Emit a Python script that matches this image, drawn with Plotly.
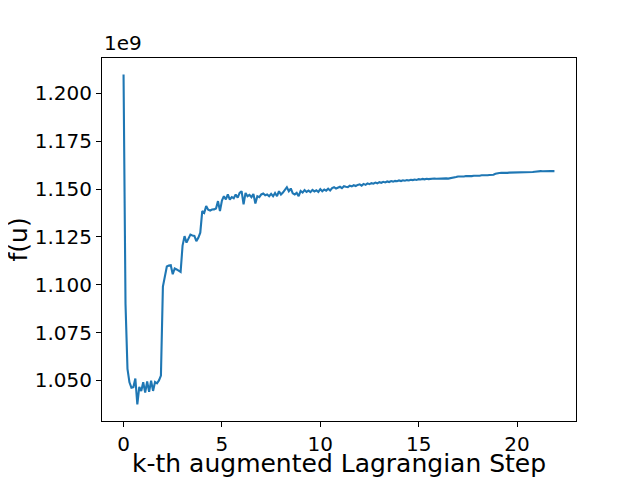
import plotly.graph_objects as go

# objective value f(u) in units of 1e9, one sample every 0.1 augmented-Lagrangian step
f_u_1e9 = [
    # 0.0 - 1.9
    1.2099, 1.0900, 1.0560, 1.0490, 1.0462, 1.0465, 1.0510, 1.0374, 1.0466, 1.0445,
    1.0490, 1.0436, 1.0495, 1.0440, 1.0498, 1.0445, 1.0492, 1.0485, 1.0500, 1.0525,
    # 2.0 - 3.9
    1.0990, 1.1040, 1.1095, 1.1100, 1.1102, 1.1055, 1.1085, 1.1080, 1.1072, 1.1067,
    1.1205, 1.1254, 1.1220, 1.1240, 1.1262, 1.1258, 1.1255, 1.1228, 1.1245, 1.1272,
    # 4.0 - 5.9
    1.1385, 1.1376, 1.1411, 1.1392, 1.1388, 1.1393, 1.1394, 1.1399, 1.1437, 1.1385,
    1.1440, 1.1463, 1.1446, 1.1472, 1.1445, 1.1458, 1.1452, 1.1472, 1.1455, 1.1480,
    # 6.0 - 7.9
    1.1489, 1.1420, 1.1480, 1.1463, 1.1470, 1.1458, 1.1474, 1.1425, 1.1463, 1.1458,
    1.1472, 1.1477, 1.1468, 1.1472, 1.1463, 1.1475, 1.1463, 1.1480, 1.1463, 1.1489,
    # 8.0 - 9.9
    1.1472, 1.1482, 1.1498, 1.1510, 1.1489, 1.1503, 1.1478, 1.1472, 1.1480, 1.1463,
    1.1490, 1.1482, 1.1495, 1.1485, 1.1492, 1.1484, 1.1496, 1.1488, 1.1494, 1.1485,
    # 10.0 - 11.9
    1.1500, 1.1489, 1.1498, 1.1492, 1.1502, 1.1493, 1.1505, 1.1510, 1.1503, 1.1508,
    1.1512, 1.1505, 1.1515, 1.1512, 1.1510, 1.1518, 1.1514, 1.1520, 1.1516, 1.1522,
    # 12.0 - 13.9
    1.1525, 1.1518, 1.1527, 1.1522, 1.1530, 1.1526, 1.1531, 1.1528, 1.1534, 1.1530,
    1.1536, 1.1533, 1.1538, 1.1535, 1.1540, 1.1537, 1.1542, 1.1539, 1.1543, 1.1541,
    # 14.0 - 15.9
    1.1545, 1.1542, 1.1546, 1.1544, 1.1547, 1.1545, 1.1549, 1.1547, 1.1550, 1.1548,
    1.1552, 1.1550, 1.1553, 1.1551, 1.1554, 1.1552, 1.1554, 1.1553, 1.1555, 1.1554,
    # 16.0 - 17.9
    1.1555, 1.1554, 1.1556, 1.1555, 1.1556, 1.1555, 1.1557, 1.1556, 1.1558, 1.1563,
    1.1566, 1.1565, 1.1567, 1.1566, 1.1568, 1.1567, 1.1569, 1.1568, 1.1570, 1.1569,
    # 18.0 - 19.9
    1.1571, 1.1570, 1.1572, 1.1571, 1.1573, 1.1572, 1.1574, 1.1573, 1.1575, 1.1580,
    1.1584, 1.1584, 1.1585, 1.1584, 1.1586, 1.1585, 1.1586, 1.1586, 1.1587, 1.1586,
    # 20.0 - 21.9
    1.1587, 1.1587, 1.1588, 1.1587, 1.1588, 1.1588, 1.1588, 1.1589, 1.1589, 1.1591,
    1.1593, 1.1593, 1.1594, 1.1593, 1.1594, 1.1594, 1.1594, 1.1594, 1.1594, 1.1594,
]
steps = [round(0.1 * i, 1) for i in range(len(f_u_1e9))]

x_ticks = [0, 5, 10, 15, 20]
y_ticks = [1.050, 1.075, 1.100, 1.125, 1.150, 1.175, 1.200]
x_label = "k-th augmented Lagrangian Step"
y_label = "f(u)"
offset_label = "1e9"

FONT = "DejaVu Sans"

def padded(vals, frac=0.05):
    lo, hi = min(vals), max(vals)
    pad = (hi - lo) * frac
    return [lo - pad, hi + pad]

fig = go.Figure()
fig.add_trace(go.Scatter(
    x=steps, y=f_u_1e9, mode="lines",
    line=dict(color="#1f77b4", width=2.1),
    showlegend=False,
))

axis_common = dict(
    showline=True, mirror=True, linecolor="black", linewidth=1.1,
    ticks="outside", ticklen=5, tickwidth=1.1, tickcolor="black",
    showgrid=False, zeroline=False,
    tickfont=dict(family=FONT, size=20, color="black"),
)

fig.update_xaxes(range=padded(steps), tickvals=x_ticks,
                 ticktext=[str(v) for v in x_ticks], **axis_common)
fig.update_yaxes(range=padded(f_u_1e9), tickvals=y_ticks,
                 ticktext=[f"{v:.3f}" for v in y_ticks], **axis_common)

fig.add_annotation(text=x_label, xref="paper", yref="paper", x=0.5, y=0,
                   xanchor="center", yanchor="middle", yshift=-42, showarrow=False,
                   font=dict(family=FONT, size=25, color="black"))
fig.add_annotation(text=y_label, xref="paper", yref="paper", x=0, y=0.5,
                   xanchor="center", yanchor="middle", xshift=-84, textangle=-90,
                   showarrow=False, font=dict(family=FONT, size=25, color="black"))
fig.add_annotation(text=offset_label, xref="paper", yref="paper", x=0, y=1,
                   xanchor="left", yanchor="bottom", yshift=1, showarrow=False,
                   font=dict(family=FONT, size=20, color="black"))

# the page body has an 8px margin, so the figure is sized and offset to compensate
fig.update_layout(
    width=632, height=472,
    margin=dict(l=94, r=64, t=50, b=59),
    paper_bgcolor="white", plot_bgcolor="white",
    font=dict(family=FONT, color="black"),
)

fig.write_html("out.html")
